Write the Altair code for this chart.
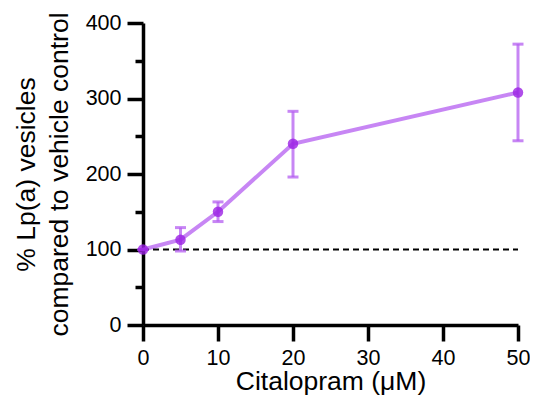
import altair as alt
import pandas as pd

# ---- data ----
conc = [0, 5, 10, 20, 50]
mean_pct = [100, 113, 150, 240, 308]
err_low = [100, 98, 137, 196, 244]
err_high = [100, 129, 163, 283, 372]

y_major = [0, 100, 200, 300, 400]
y_minor = [50, 150, 250, 350]
x_ticks = [0, 10, 20, 30, 40, 50]

ref_level = [100]
ref_start = [0]
ref_end = [50]

y_title = ["% Lp(a) vesicles", "compared to vehicle control"]
x_title = "Citalopram (μM)"

df = pd.DataFrame({"conc": conc, "mean": mean_pct, "low": err_low, "high": err_high})
ref = pd.DataFrame({"x0": ref_start, "x1": ref_end, "y": ref_level})

FONT = "Liberation Sans"
LINE_COL = "#b45ef0"
PT_COL = "#9b22e3"

xs = alt.Scale(domain=[0, 50], nice=False)
ys = alt.Scale(domain=[0, 400], nice=False)

x_axis = alt.Axis(values=x_ticks, title=x_title, tickSize=16, tickWidth=3.5,
                  domainWidth=3.5, domainColor="black", tickColor="black",
                  labelFontSize=21.5, labelColor="black", labelPadding=6,
                  labelFont=FONT, titleFont=FONT, titleFontSize=26.5,
                  titleFontWeight="normal", titleColor="black", titlePadding=0,
                  grid=False, labelFlush=False)

y_axis = alt.Axis(values=y_major, title=y_title, tickSize=16, tickWidth=3.5,
                  domainWidth=3.5, domainColor="black", tickColor="black",
                  labelFontSize=21.5, labelColor="black", labelPadding=6,
                  labelFont=FONT, titleFont=FONT, titleFontSize=26.5,
                  titleFontWeight="normal", titleColor="black", titlePadding=12,
                  titleLineHeight=33, grid=False, labelFlush=False)

minor_axis = alt.Axis(values=y_minor, title=None, tickSize=8, tickWidth=3.5,
                      tickColor="black", labels=False, domain=False, grid=False,
                      orient="left")

ref_rule = alt.Chart(ref).mark_rule(color="black", strokeWidth=2, strokeDash=[6, 4]).encode(
    x=alt.X("x0:Q", scale=xs, axis=x_axis),
    x2="x1:Q",
    y=alt.Y("y:Q", scale=ys, axis=minor_axis),
)

base = alt.Chart(df)

line = base.mark_line(color=LINE_COL, opacity=0.75, strokeWidth=4).encode(
    x=alt.X("conc:Q", scale=xs, axis=x_axis),
    y=alt.Y("mean:Q", scale=ys, axis=y_axis),
)

bars = base.mark_rule(color=LINE_COL, opacity=0.75, strokeWidth=3).encode(
    x=alt.X("conc:Q", scale=xs, axis=x_axis),
    y=alt.Y("low:Q", scale=ys, axis=None),
    y2="high:Q",
)

caps_lo = base.mark_tick(color=LINE_COL, opacity=0.75, thickness=3, size=11,
                         orient="horizontal").encode(
    x=alt.X("conc:Q", scale=xs, axis=x_axis),
    y=alt.Y("low:Q", scale=ys, axis=None),
)

caps_hi = base.mark_tick(color=LINE_COL, opacity=0.75, thickness=3, size=11,
                         orient="horizontal").encode(
    x=alt.X("conc:Q", scale=xs, axis=x_axis),
    y=alt.Y("high:Q", scale=ys, axis=None),
)

points = base.mark_circle(color=PT_COL, opacity=0.8, size=110).encode(
    x=alt.X("conc:Q", scale=xs, axis=x_axis),
    y=alt.Y("mean:Q", scale=ys, axis=None),
)

chart = alt.layer(line, ref_rule, bars, caps_lo, caps_hi, points).resolve_axis(
    y="independent"
).properties(
    width=375, height=302,
    autosize=alt.AutoSizeParams(type="none"),
    padding={"left": 135, "top": 15, "right": 12, "bottom": 70},
).configure_view(stroke=None)

chart.save("out.html", embed_options={"renderer": "svg", "actions": False})
